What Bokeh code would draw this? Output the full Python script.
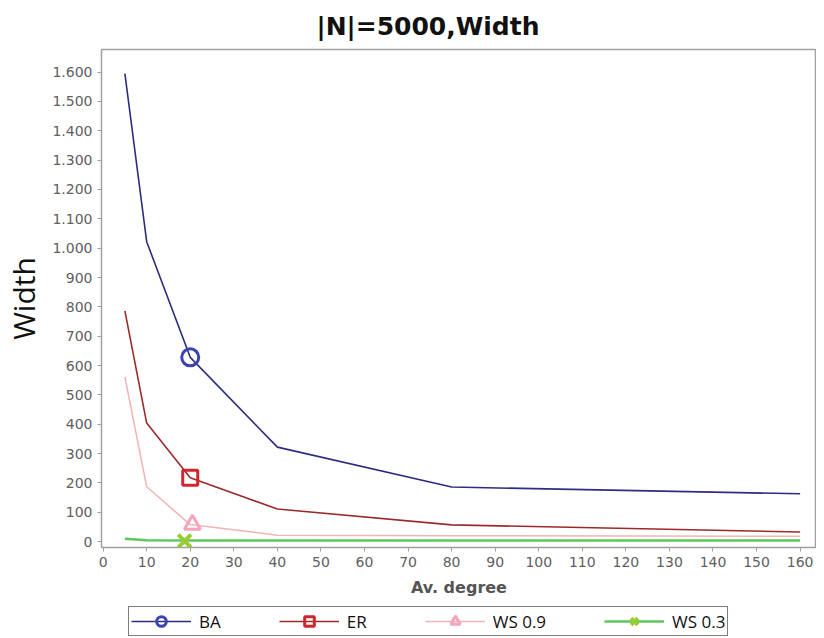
from bokeh.plotting import figure
from bokeh.layouts import column
from bokeh.models import Range1d, FixedTicker, CustomJSTickFormatter, Legend, LegendItem
from bokeh.embed import file_html
from bokeh.resources import INLINE

# ---- data ----
avg_degree = [5, 10, 20, 40, 80, 160]
ba = [1595, 1022, 628, 322, 186, 163]
er = [786, 404, 218, 111, 57, 33]
ws09 = [561, 187, 58, 22, 20, 18]
ws03 = [10, 5, 4, 4, 4, 4]

# single highlighted marker per series
ba_mark = ([20], [628])
er_mark = ([20], [218])
ws09_mark = ([20.5], [58])
ws03_mark = ([18.7], [2])

x_ticks = list(range(0, 161, 10))
y_ticks = list(range(0, 1601, 100))

series_labels = ["BA", "ER", "WS 0.9", "WS 0.3"]

# ---- styles ----
line_styles = [dict(line_color="#2c2c80", line_width=1.6),
               dict(line_color="#9c2a2a", line_width=1.6),
               dict(line_color="#f2b4b4", line_width=1.5),
               dict(line_color="#5cc85c", line_width=2.5)]
marker_styles = [dict(marker="circle", size=17, fill_color=None, line_color="#3a44b0", line_width=3),
                 dict(marker="square", size=15, fill_color=None, line_color="#d0262e", line_width=3),
                 dict(marker="triangle", size=16, fill_color=None, line_color="#f4a4bf", line_width=3),
                 dict(marker="x", size=18, line_color="#9acd32", line_width=4)]

p = figure(width=816, height=600, output_backend="svg", toolbar_location=None,
           x_range=Range1d(-0.37, 163.76), y_range=Range1d(-20, 1677),
           min_border_left=100, min_border_top=48, min_border_right=0, min_border_bottom=53,
           title="|N|=5000,Width")

p.title.text_font = "DejaVu Sans"
p.title.text_font_size = "25px"
p.title.text_font_style = "bold"
p.title.text_color = "#111111"
p.title.align = "left"
p.title.offset = 215
p.title.standoff = 18
p.title.text_line_height = 0.75

p.xgrid.visible = False
p.ygrid.visible = False
p.outline_line_color = "#a0a0a0"
p.outline_line_width = 1.5
p.background_fill_color = "white"
p.border_fill_color = "white"

for ax in (p.xaxis[0], p.yaxis[0]):
    ax.axis_line_color = "#a0a0a0"
    ax.major_tick_line_color = "#a0a0a0"
    ax.major_tick_out = 4
    ax.major_tick_in = 0
    ax.minor_tick_line_color = None
    ax.major_label_text_font = "DejaVu Sans"
    ax.major_label_text_font_size = "14px"
    ax.major_label_text_color = "#606060"

p.xaxis.ticker = FixedTicker(ticks=x_ticks)
p.yaxis.ticker = FixedTicker(ticks=y_ticks)
p.yaxis.formatter = CustomJSTickFormatter(code="""
const t = Math.round(tick);
if (t >= 1000) { return Math.floor(t/1000) + '.' + String(t % 1000).padStart(3, '0'); }
return String(t);
""")

p.xaxis.axis_label = "Av. degree"
p.xaxis.axis_label_text_font = "DejaVu Sans"
p.xaxis.axis_label_text_font_style = "bold"
p.xaxis.axis_label_text_font_size = "16px"
p.xaxis.axis_label_text_color = "#555555"
p.xaxis.axis_label_standoff = 8

p.yaxis.axis_label = "Width"
p.yaxis.axis_label_text_font = "Open Sans"
p.yaxis.axis_label_text_font_style = "normal"
p.yaxis.axis_label_text_font_size = "30px"
p.yaxis.axis_label_text_color = "#111111"
p.yaxis.axis_label_standoff = 5

# ---- series (drawn back to front) ----
values = [ba, er, ws09, ws03]
marks = [ba_mark, er_mark, ws09_mark, ws03_mark]
for i in [3, 2, 1, 0]:
    p.line(avg_degree, values[i], **line_styles[i])
for i in [3, 2, 1, 0]:
    p.scatter(marks[i][0], marks[i][1], **marker_styles[i])

# ---- legend strip (its renderers fall outside its own ranges) ----
lg = figure(width=816, height=36, output_backend="svg", toolbar_location=None,
            x_range=Range1d(0, 1), y_range=Range1d(0, 1),
            min_border_left=0, min_border_right=0, min_border_top=0, min_border_bottom=0)
lg.axis.visible = False
lg.xgrid.visible = False
lg.ygrid.visible = False
lg.outline_line_color = None
items = []
for i, lab in enumerate(series_labels):
    rl = lg.line(avg_degree, values[i], **line_styles[i])
    rm = lg.scatter(marks[i][0], marks[i][1], **marker_styles[i])
    items.append(LegendItem(label=lab, renderers=[rl, rm]))
legend = Legend(items=items, orientation="horizontal", location=(27, 0))
legend.border_line_color = "black"
legend.border_line_width = 1.5
legend.background_fill_color = "white"
legend.background_fill_alpha = 1.0
legend.label_text_font = "Open Sans"
legend.label_text_font_size = "17px"
legend.label_text_color = "#111111"
legend.glyph_width = 60
legend.glyph_height = 24
legend.label_height = 24
legend.label_standoff = 8
legend.spacing = 58
legend.padding = 2
legend.margin = 0
lg.add_layout(legend, "center")

layout = column(p, lg, spacing=0)
open("out.html", "w").write(file_html(layout, INLINE))
